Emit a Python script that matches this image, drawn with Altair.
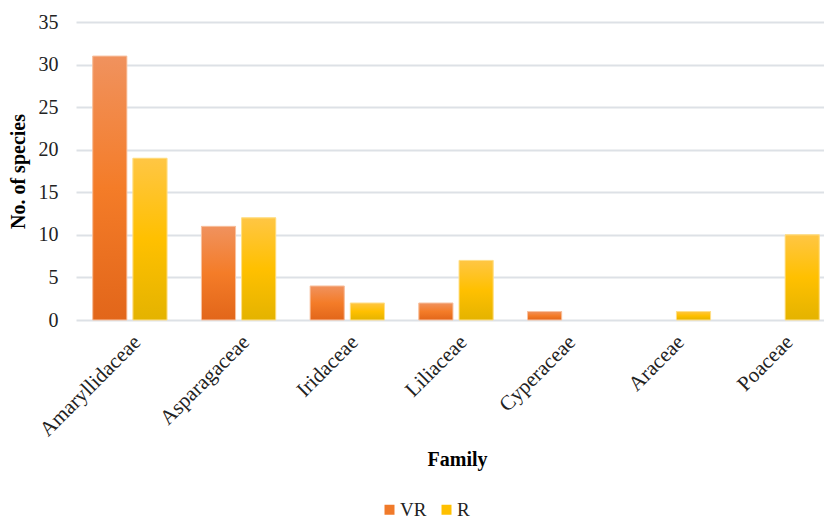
import altair as alt
import pandas as pd

families = ["Amaryllidaceae", "Asparagaceae", "Iridaceae", "Liliaceae", "Cyperaceae", "Araceae", "Poaceae"]
vr_values = [31, 11, 4, 2, 1, 0, 0]
r_values = [19, 12, 2, 7, 0, 1, 10]
series = ["VR", "R"]
y_ticks = [0, 5, 10, 15, 20, 25, 30, 35]

rows = []
for f, v, r in zip(families, vr_values, r_values):
    rows.append({"Family": f, "Series": "VR", "Count": v})
    rows.append({"Family": f, "Series": "R", "Count": r})
df = pd.DataFrame(rows)

FONT = "'Times New Roman', 'Liberation Serif', Times, serif"

x_enc = alt.X("Family:N", sort=families,
              scale=alt.Scale(paddingInner=0.316, paddingOuter=0.0985, align=0.78),
              axis=alt.Axis(title="Family", labelAngle=-45, labelFontSize=21, labelFont=FONT,
                            labelColor="#222", titleFont=FONT, titleFontSize=20,
                            titleFontWeight="bold", titleColor="#000", titleX=381, titleY=139,
                            titleBaseline="middle", domain=False, ticks=False, labelPadding=11))
xoff = alt.XOffset("Series:N", sort=series,
                   scale=alt.Scale(domain=series, paddingInner=0.15, paddingOuter=0))
y_enc = alt.Y("Count:Q", scale=alt.Scale(domain=[0, 35], nice=False),
              axis=alt.Axis(title="No. of species", values=y_ticks, labelFontSize=20, labelFont=FONT,
                            labelColor="#222", titleFont=FONT, titleFontSize=20,
                            titleFontWeight="bold", titleColor="#000", titlePadding=10,
                            domain=False, ticks=False, labelPadding=18,
                            gridColor="#dde1e6", gridWidth=2))

base = alt.Chart(df).mark_bar().encode(
    x=x_enc, xOffset=xoff, y=y_enc,
    color=alt.Color("Series:N", sort=series,
                    scale=alt.Scale(domain=series, range=["#f07a2a", "#ffc000"]),
                    legend=alt.Legend(title=None, orient="none", direction="horizontal",
                                      legendX=304, legendY=478, symbolType="square",
                                      symbolSize=100, labelFont=FONT, labelFontSize=19,
                                      labelColor="#222", columnPadding=10, labelOffset=1))
)

grad_vr = alt.LinearGradient(gradient="linear", x1=0, x2=0, y1=0, y2=1, stops=[
    alt.GradientStop(color="#f0925e", offset=0),
    alt.GradientStop(color="#f47c28", offset=0.5),
    alt.GradientStop(color="#e2661a", offset=1)])
grad_r = alt.LinearGradient(gradient="linear", x1=0, x2=0, y1=0, y2=1, stops=[
    alt.GradientStop(color="#ffc644", offset=0),
    alt.GradientStop(color="#ffc000", offset=0.5),
    alt.GradientStop(color="#e4b300", offset=1)])

vr_layer = alt.Chart(df).transform_filter(
    (alt.datum.Series == "VR") & (alt.datum.Count > 0)
).mark_bar(color=grad_vr, stroke="#f8c4a4", strokeWidth=1).encode(x=x_enc, xOffset=xoff, y=y_enc)

r_layer = alt.Chart(df).transform_filter(
    (alt.datum.Series == "R") & (alt.datum.Count > 0)
).mark_bar(color=grad_r, stroke="#ffe08c", strokeWidth=1).encode(x=x_enc, xOffset=xoff, y=y_enc)

chart = alt.layer(base, vr_layer, r_layer).properties(
    width=748, height=298,
    autosize=alt.AutoSizeParams(type="none"),
    padding={"left": 76, "top": 22, "right": 0, "bottom": 202},
    background="white"
).configure_view(stroke=None)

chart.save("out.html", embed_options={"renderer": "svg", "actions": False})
